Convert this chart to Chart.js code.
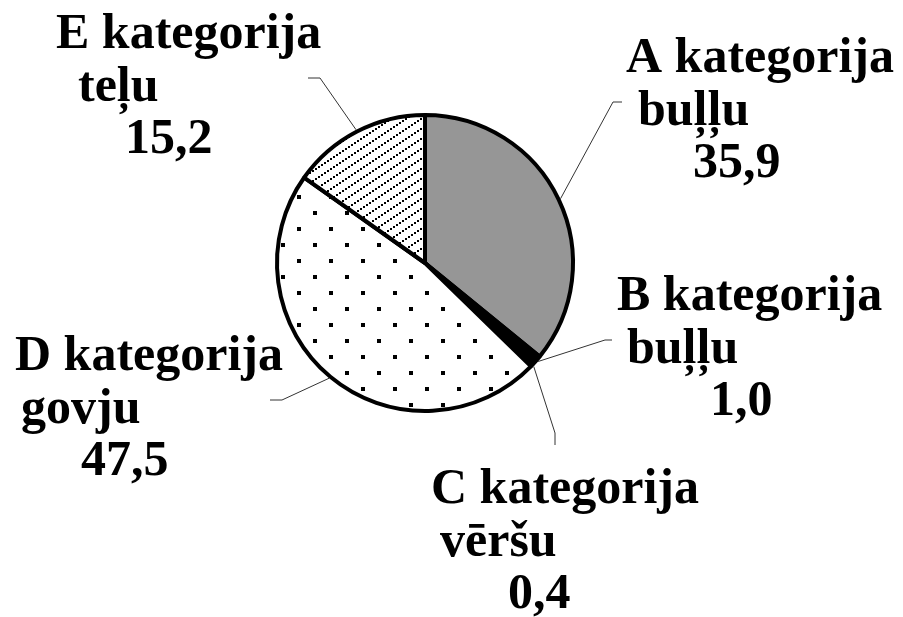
<!DOCTYPE html>
<html>
<head>
<meta charset="utf-8">
<script src="https://cdn.jsdelivr.net/npm/chart.js@4.4.1/dist/chart.umd.min.js"></script>
<style>
  html, body { margin: 0; padding: 0; background: #fff; }
  #wrap { width: 903px; height: 617px; position: relative; }
</style>
</head>
<body>
<div id="wrap"><canvas id="pieChart"></canvas></div>
<script>
// dati
const kategorijas = ['A kategorija', 'B kategorija', 'C kategorija', 'D kategorija', 'E kategorija'];
const apraksti = ['buļļu', 'buļļu', 'vēršu', 'govju', 'teļu'];
const vertibas = [35.9, 1.0, 0.4, 47.5, 15.2];

// etiķešu izvietojums (teksta rindu x, pirmās rindas bāzes līnija, līnijas lūzuma punkts un gals)
const etiketes = [
  { x: [626, 638, 693], y: 72,  lauzums: [613, 102], gals: [622, 102] },
  { x: [617, 627, 710], y: 310, lauzums: [605, 340], gals: [612, 340] },
  { x: [431, 440, 508], y: 503, lauzums: [555, 433], gals: [555, 445] },
  { x: [15, 21, 81],    y: 370, lauzums: [282, 400], gals: [270, 400] },
  { x: [56, 78, 125],   y: 48,  lauzums: [320, 78],  gals: [308, 78] }
];

function punktuRaksts() {
  const c = document.createElement('canvas');
  c.width = 32; c.height = 32;
  const g = c.getContext('2d');
  g.fillStyle = '#fff';
  g.fillRect(0, 0, 32, 32);
  g.fillStyle = '#000';
  g.fillRect(25, 19, 4, 4);
  g.fillRect(9, 3, 4, 4);
  return g.createPattern(c, 'repeat');
}

function svitruRaksts() {
  const c = document.createElement('canvas');
  c.width = 15; c.height = 10;
  const g = c.getContext('2d');
  g.fillStyle = '#fff';
  g.fillRect(0, 0, 15, 10);
  g.fillStyle = '#000';
  for (let k = 0; k < 5; k++) g.fillRect(k * 3, 8 - k * 2, 2, 2);
  return g.createPattern(c, 'repeat');
}

const etikesuSpraudnis = {
  id: 'etiketes',
  afterDraw(chart) {
    const ctx = chart.ctx;
    const arcs = chart.getDatasetMeta(0).data;
    ctx.save();
    arcs.forEach((arc, i) => {
      const e = etiketes[i];
      const vid = (arc.startAngle + arc.endAngle) / 2;
      const r = arc.outerRadius + 2;
      const sx = arc.x + Math.cos(vid) * r;
      const sy = arc.y + Math.sin(vid) * r;
      ctx.strokeStyle = '#333';
      ctx.lineWidth = 1;
      ctx.beginPath();
      ctx.moveTo(sx, sy);
      ctx.lineTo(e.lauzums[0], e.lauzums[1]);
      ctx.lineTo(e.gals[0], e.gals[1]);
      ctx.stroke();

      ctx.fillStyle = '#000';
      ctx.font = 'bold 50px "Liberation Serif", "Times New Roman", serif';
      ctx.textAlign = 'left';
      ctx.textBaseline = 'alphabetic';
      const rindas = [kategorijas[i], apraksti[i], vertibas[i].toFixed(1).replace('.', ',')];
      rindas.forEach((t, k) => ctx.fillText(t, e.x[k], e.y + k * 52.5));
    });
    ctx.restore();
  }
};

new Chart(document.getElementById('pieChart'), {
  type: 'pie',
  data: {
    labels: kategorijas.map((k, i) => k + ' ' + apraksti[i]),
    datasets: [{
      data: vertibas,
      backgroundColor: ['#969696', '#000000', '#000000', punktuRaksts(), svitruRaksts()],
      borderColor: '#000',
      borderWidth: 4,
      radius: 148
    }]
  },
  options: {
    responsive: true,
    maintainAspectRatio: false,
    animation: false,
    events: [],
    layout: { padding: { left: 0, right: 53, top: 0, bottom: 91 } },
    plugins: { legend: { display: false }, tooltip: { enabled: false } }
  },
  plugins: [etikesuSpraudnis]
});
</script>
</body>
</html>
